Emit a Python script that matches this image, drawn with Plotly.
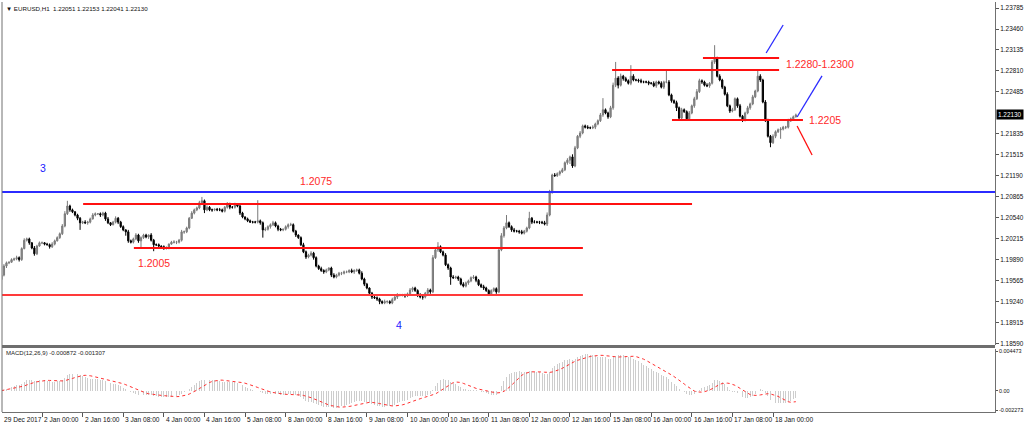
import plotly.graph_objects as go

# ---------------- data: EURUSD H1 closes, in 1e-4 price units ----------------
first_open = 11958
close_dec29 = [11965, 11979, 11984, 11985, 11989, 11990, 11992, 11989, 12006, 12019, 12021, 12015, 12007, 11998, 12010, 12015]
close_jan02 = [12015, 12013, 12012, 12009, 12013, 12018, 12023, 12029, 12041, 12060, 12072, 12066, 12063, 12058, 12053, 12046, 12047, 12046, 12047, 12052, 12058, 12060, 12060, 12058]
close_jan03 = [12061, 12052, 12046, 12043, 12047, 12053, 12047, 12040, 12035, 12032, 12018, 12016, 12021, 12027, 12018, 12023, 12027, 12024, 12027, 12019, 12012, 12012, 12010, 12009]
close_jan04 = [12007, 12007, 12013, 12016, 12016, 12016, 12019, 12032, 12032, 12038, 12053, 12061, 12066, 12069, 12077, 12080, 12066, 12070, 12066, 12066, 12067, 12066, 12066, 12064]
close_jan05 = [12070, 12075, 12070, 12070, 12074, 12072, 12061, 12055, 12052, 12049, 12047, 12047, 12047, 12049, 12046, 12035, 12036, 12040, 12043, 12046, 12041, 12036, 12035, 12036]
close_jan08 = [12040, 12043, 12043, 12033, 12027, 12023, 12012, 12001, 11993, 11996, 11999, 11992, 11979, 11975, 11972, 11970, 11973, 11976, 11965, 11962, 11965, 11968, 11968, 11970]
close_jan09 = [11970, 11972, 11970, 11972, 11973, 11968, 11959, 11951, 11945, 11937, 11931, 11930, 11928, 11924, 11922, 11924, 11924, 11922, 11927, 11931, 11934, 11934, 11934, 11933]
close_jan10 = [11936, 11942, 11945, 11941, 11934, 11931, 11931, 11937, 11942, 11939, 11992, 12004, 12009, 12001, 11996, 11981, 11976, 11962, 11961, 11962, 11959, 11951, 11948, 11953]
close_jan11 = [11956, 11961, 11962, 11957, 11950, 11947, 11945, 11941, 11936, 11941, 11944, 11939, 12004, 12026, 12038, 12046, 12040, 12035, 12033, 12033, 12032, 12030, 12033, 12038]
close_jan12 = [12053, 12047, 12047, 12047, 12047, 12046, 12044, 12058, 12094, 12120, 12119, 12122, 12125, 12128, 12139, 12143, 12148, 12134, 12162, 12180, 12185, 12196, 12194, 12193]
close_jan15 = [12193, 12194, 12199, 12204, 12213, 12221, 12216, 12210, 12224, 12259, 12270, 12259, 12273, 12269, 12266, 12262, 12273, 12267, 12267, 12266, 12264, 12264, 12264, 12262]
close_jan16 = [12262, 12258, 12264, 12262, 12256, 12264, 12264, 12244, 12235, 12232, 12224, 12208, 12221, 12218, 12207, 12216, 12227, 12238, 12249, 12266, 12264, 12259, 12258, 12262]
close_jan17 = [12295, 12301, 12273, 12267, 12256, 12245, 12227, 12219, 12221, 12238, 12227, 12211, 12205, 12216, 12224, 12230, 12241, 12250, 12273, 12267, 12233, 12205, 12180, 12170]
close_jan18 = [12180, 12187, 12190, 12191, 12194, 12194, 12204, 12207, 12210, 12213]

# upper / lower wick lengths (pips)
hw_dec29 = [2, 3, 2, 1, 2, 2, 3, 2, 2, 3, 2, 2, 1, 3, 2, 2]
lw_dec29 = [5, 2, 3, 2, 1, 2, 2, 3, 2, 1, 2, 3, 2, 3, 2, 1]
hw_jan02 = [2, 1, 2, 2, 3, 2, 2, 2, 3, 4, 8, 2, 2, 1, 2, 2, 2, 3, 2, 2, 3, 2, 1, 2]
lw_jan02 = [2, 2, 1, 3, 2, 2, 1, 2, 2, 2, 2, 3, 2, 2, 3, 11, 2, 2, 3, 2, 1, 2, 2, 3]
hw_jan03 = [2, 2, 3, 1, 2, 3, 2, 2, 2, 1, 3, 2, 2, 3, 2, 2, 2, 2, 1, 3, 2, 2, 2, 1]
lw_jan03 = [2, 3, 2, 2, 1, 2, 3, 2, 2, 6, 3, 2, 2, 2, 3, 12, 2, 2, 3, 2, 10, 2, 3, 2]
hw_jan04 = [2, 2, 1, 2, 3, 2, 2, 3, 2, 2, 2, 3, 2, 2, 3, 6, 2, 3, 2, 2, 1, 2, 3, 2]
lw_jan04 = [3, 2, 2, 1, 2, 3, 2, 2, 3, 2, 2, 1, 2, 2, 2, 3, 5, 2, 2, 3, 2, 2, 2, 2]
hw_jan05 = [2, 3, 2, 2, 3, 2, 2, 2, 1, 2, 2, 2, 2, 32, 2, 2, 3, 2, 2, 3, 2, 2, 2, 1]
lw_jan05 = [2, 2, 3, 2, 2, 2, 3, 2, 2, 2, 1, 2, 2, 2, 3, 12, 2, 2, 3, 2, 2, 3, 2, 2]
hw_jan08 = [2, 2, 3, 2, 2, 1, 2, 3, 2, 2, 3, 2, 2, 2, 3, 2, 2, 1, 2, 3, 2, 2, 2, 2]
lw_jan08 = [2, 3, 2, 2, 3, 2, 2, 2, 3, 2, 2, 3, 2, 2, 2, 3, 2, 2, 3, 2, 2, 2, 3, 2]
hw_jan09 = [2, 2, 3, 2, 2, 2, 3, 2, 2, 1, 2, 3, 2, 2, 2, 3, 2, 2, 3, 2, 3, 2, 2, 2]
lw_jan09 = [2, 2, 2, 3, 2, 2, 2, 3, 2, 4, 3, 2, 3, 4, 2, 2, 3, 2, 2, 2, 3, 2, 2, 3]
hw_jan10 = [2, 3, 2, 2, 2, 3, 2, 2, 3, 2, 4, 3, 7, 2, 2, 3, 2, 2, 3, 2, 2, 2, 3, 2]
lw_jan10 = [2, 2, 3, 2, 3, 2, 4, 2, 2, 3, 2, 2, 3, 2, 2, 2, 3, 12, 2, 2, 3, 2, 2, 2]
hw_jan11 = [2, 2, 3, 2, 2, 2, 3, 2, 2, 2, 2, 2, 3, 4, 3, 12, 2, 2, 3, 2, 2, 3, 2, 2]
lw_jan11 = [3, 2, 2, 3, 2, 2, 3, 2, 3, 2, 2, 3, 2, 2, 3, 2, 2, 3, 2, 2, 3, 2, 2, 2]
hw_jan12 = [10, 2, 3, 2, 2, 2, 3, 4, 3, 2, 3, 2, 2, 3, 2, 3, 2, 4, 3, 2, 3, 2, 2, 3]
lw_jan12 = [2, 3, 2, 2, 3, 2, 2, 3, 2, 3, 2, 2, 3, 2, 2, 3, 6, 3, 2, 2, 3, 2, 2, 2]
hw_jan15 = [2, 3, 2, 2, 3, 18, 2, 2, 3, 4, 25, 3, 4, 2, 3, 2, 17, 3, 2, 2, 3, 2, 2, 2]
lw_jan15 = [2, 2, 3, 2, 2, 3, 2, 3, 2, 3, 3, 5, 2, 3, 2, 2, 3, 2, 2, 3, 2, 2, 2, 3]
hw_jan16 = [2, 3, 2, 2, 3, 2, 17, 3, 2, 2, 3, 2, 3, 2, 2, 3, 2, 3, 4, 3, 2, 2, 3, 2]
lw_jan16 = [2, 2, 3, 2, 2, 3, 2, 2, 3, 2, 5, 3, 2, 2, 3, 2, 2, 3, 2, 2, 3, 2, 2, 3]
hw_jan17 = [3, 20, 2, 3, 2, 2, 3, 2, 3, 2, 2, 3, 2, 2, 3, 2, 3, 2, 10, 3, 2, 3, 2, 2]
lw_jan17 = [2, 3, 2, 2, 3, 2, 2, 3, 2, 2, 3, 2, 3, 2, 2, 3, 2, 2, 2, 3, 2, 3, 2, 7]
hw_jan18 = [3, 2, 2, 3, 2, 2, 3, 2, 2, 2]
lw_jan18 = [2, 3, 2, 14, 2, 3, 2, 2, 3, 1]

# time axis labels (every 16 bars)
x_tick_labels = ["29 Dec 2017", "2 Jan 00:00", "2 Jan 16:00", "3 Jan 08:00", "4 Jan 00:00",
                 "4 Jan 16:00", "5 Jan 08:00", "8 Jan 00:00", "8 Jan 16:00", "9 Jan 08:00",
                 "10 Jan 00:00", "10 Jan 16:00", "11 Jan 08:00", "12 Jan 00:00", "12 Jan 16:00",
                 "15 Jan 08:00", "16 Jan 00:00", "16 Jan 16:00", "17 Jan 08:00", "18 Jan 00:00"]
y_tick_labels = ["1.18590", "1.18915", "1.19240", "1.19565", "1.19890", "1.20215", "1.20540",
                 "1.20865", "1.21190", "1.21515", "1.21835", "1.22485", "1.22810", "1.23135",
                 "1.23460", "1.23785"]
macd_tick_labels = ["0.004473", "0.00", "-0.002273"]
last_price_label = "1.22130"
header_text = "EURUSD,H1  1.22051 1.22153 1.22041 1.22130"
macd_text = "MACD(12,26,9) -0.000872 -0.001307"

# drawn analysis objects (bar index, price)
level_price = [1.20937, 1.20751, 1.20070, 1.19342, 1.23011, 1.22825, 1.22051]
level_start = [None, 32.2, 52.2, None, 276.4, 240.6, 264.2]
level_end = [None, 272.1, 229.1, 229.1, 306.4, 306.4, 315.8]
trend_x0 = [301.3, 313.5, 313.5]
trend_p0 = [1.23089, 1.22098, 1.21958]
trend_x1 = [308.0, 323.3, 319.4]
trend_p1 = [1.23522, 1.22733, 1.21510]
note_text = ["3", "1.2075", "1.2005", "4", "1.2280-1.2300", "1.2205"]
note_x = [16.4, 123.9, 60.1, 156.7, 322.5, 324.5]
note_p = [1.21308, 1.21107, 1.19838, 1.18878, 1.22918, 1.22051]

# ---------------- assemble ----------------
closes_pips = (close_dec29 + close_jan02 + close_jan03 + close_jan04 + close_jan05 + close_jan08 +
               close_jan09 + close_jan10 + close_jan11 + close_jan12 + close_jan15 + close_jan16 +
               close_jan17 + close_jan18)
hw = (hw_dec29 + hw_jan02 + hw_jan03 + hw_jan04 + hw_jan05 + hw_jan08 + hw_jan09 + hw_jan10 +
      hw_jan11 + hw_jan12 + hw_jan15 + hw_jan16 + hw_jan17 + hw_jan18)
lw = (lw_dec29 + lw_jan02 + lw_jan03 + lw_jan04 + lw_jan05 + lw_jan08 + lw_jan09 + lw_jan10 +
      lw_jan11 + lw_jan12 + lw_jan15 + lw_jan16 + lw_jan17 + lw_jan18)
n = len(closes_pips)
opens_pips = [first_open] + closes_pips[:-1]
close = [c / 1e4 for c in closes_pips]
open_ = [o / 1e4 for o in opens_pips]
high = [(max(o, c) + h) / 1e4 for o, c, h in zip(opens_pips, closes_pips, hw)]
low = [(min(o, c) - l) / 1e4 for o, c, l in zip(opens_pips, closes_pips, lw)]
idx = list(range(n))


def ema(vals, period):
    k = 2.0 / (period + 1)
    out, e = [], vals[0]
    for v in vals:
        e = e + k * (v - e)
        out.append(e)
    return out


e12, e26 = ema(close, 12), ema(close, 26)
macd = [a - b for a, b in zip(e12, e26)]
signal = []
for i in range(n):
    win = macd[max(0, i - 8):i + 1]
    signal.append(sum(win) / len(win))

# ---------------- layout helpers ----------------
W, H = 1024, 429
ML, MR, MT, MB = 2, 29, 2, 17
PW, PH = W - ML - MR, H - MT - MB
X_RANGE = [0.24, 391.46]


def pyp(p):
    return (H - MB - p) / PH


def pxp(p):
    return (p - ML) / PW


def idx_to_paper(i):
    return (i - X_RANGE[0]) / (X_RANGE[1] - X_RANGE[0])


FONT = "Liberation Sans, Arial, sans-serif"
fig = go.Figure()

fig.add_trace(go.Candlestick(
    x=idx, open=open_, high=high, low=low, close=close,
    increasing=dict(line=dict(color="#7a7a7a", width=1), fillcolor="#8c8c8c"),
    decreasing=dict(line=dict(color="#000000", width=1), fillcolor="#000000"),
    xaxis="x", yaxis="y", showlegend=False, hoverinfo="skip"))

fig.add_trace(go.Bar(x=idx, y=macd, width=0.38, marker=dict(color="#cdcdcd", line=dict(width=0)),
                     xaxis="x", yaxis="y2", showlegend=False, hoverinfo="skip"))
fig.add_trace(go.Scatter(x=idx, y=signal, mode="lines", line=dict(color="#ff3030", width=1, dash="dot"),
                         xaxis="x", yaxis="y2", showlegend=False, hoverinfo="skip"))

shapes = []
lvl_colors = ["#2b2bff", "#ff1010", "#ff1010", "#ff3a3a", "#ff1010", "#ff1010", "#ff1010"]
for p, s, e, c in zip(level_price, level_start, level_end, lvl_colors):
    x0 = 0 if s is None else idx_to_paper(s)
    x1 = 1 if e is None else idx_to_paper(e)
    shapes.append(dict(type="line", xref="paper", yref="y", x0=x0, x1=x1, y0=p, y1=p,
                       line=dict(color=c, width=2)))
for x0, p0, x1, p1, c in zip(trend_x0, trend_p0, trend_x1, trend_p1, ["#2b2bff", "#2b2bff", "#ff1010"]):
    shapes.append(dict(type="line", xref="x", yref="y", x0=x0, x1=x1, y0=p0, y1=p1,
                       line=dict(color=c, width=1.3)))
# panel separator and left frame
shapes.append(dict(type="rect", xref="paper", yref="paper", x0=0, x1=1, y0=pyp(348), y1=pyp(345),
                   fillcolor="#6e6e6e", line=dict(width=0), layer="above"))
shapes.append(dict(type="line", xref="paper", yref="paper", x0=0, x1=0, y0=0, y1=1,
                   line=dict(color="#707070", width=1)))

ann = []
note_colors = ["#1a1aff", "#ff2a2a", "#ff2a2a", "#1a1aff", "#ff2a2a", "#ff2a2a"]
for t, x, p, c in zip(note_text, note_x, note_p, note_colors):
    ann.append(dict(text=t, x=x, y=p, xref="x", yref="y", showarrow=False,
                    font=dict(family=FONT, size=10.5, color=c)))
for k, t in enumerate(x_tick_labels):
    ann.append(dict(text=t, x=max(idx_to_paper(16 * k), 0), y=0, xref="paper", yref="paper",
                    xanchor="left", yanchor="top", xshift=0, yshift=-2, showarrow=False,
                    font=dict(family=FONT, size=6.6, color="#111")))
ann.append(dict(text=last_price_label, x=1, y=1.22130, xref="paper", yref="y", xanchor="left",
                yanchor="middle", xshift=1, showarrow=False, bgcolor="#000000", borderpad=1,
                font=dict(family=FONT, size=6.4, color="#ffffff")))
ann.append(dict(text="\u25bc " + header_text, x=pxp(4), y=pyp(8), xref="paper", yref="paper",
                xanchor="left", yanchor="middle", showarrow=False,
                font=dict(family=FONT, size=6.2, color="#111")))
ann.append(dict(text=macd_text, x=pxp(4), y=pyp(352.5), xref="paper", yref="paper",
                xanchor="left", yanchor="middle", showarrow=False,
                font=dict(family=FONT, size=6.0, color="#222")))

y_tick_vals = [float(t) for t in y_tick_labels]
macd_tick_vals = [float(t) for t in macd_tick_labels]
px_per = 0.006746 / 59.0

fig.update_layout(
    width=W, height=H, margin=dict(l=ML, r=MR, t=MT, b=MB, autoexpand=False),
    paper_bgcolor="#ffffff", plot_bgcolor="#ffffff",
    xaxis=dict(range=X_RANGE, domain=[0, 1], anchor="y2", showgrid=False, zeroline=False,
               showline=True, linecolor="#707070", linewidth=1,
               tickmode="array", tickvals=[16 * k for k in range(len(x_tick_labels))],
               showticklabels=False, ticks="outside", ticklen=4, tickcolor="#555",
               rangeslider=dict(visible=False), fixedrange=True),
    yaxis=dict(domain=[pyp(345), 1], range=[1.18568, 1.23878], side="right", anchor="x",
               showgrid=False, zeroline=False, showline=True, linecolor="#707070",
               tickmode="array", tickvals=y_tick_vals, ticktext=y_tick_labels,
               ticks="outside", ticklen=3, tickcolor="#555",
               tickfont=dict(family=FONT, size=6.4, color="#111")),
    yaxis2=dict(domain=[0, pyp(349)], range=[-0.002273 - 1.5 * px_per, 0.004473 + 2.5 * px_per],
                side="right", anchor="x", showgrid=False, zeroline=False, showline=True,
                linecolor="#707070", tickmode="array", tickvals=macd_tick_vals,
                ticktext=macd_tick_labels, ticks="outside", ticklen=2, tickcolor="#555",
                tickfont=dict(family=FONT, size=5.4, color="#111")),
    shapes=shapes, annotations=ann, bargap=0, showlegend=False,
)

fig.write_html("out.html", config={"displayModeBar": False, "staticPlot": True},
               post_script="document.body.style.margin='0px';")
